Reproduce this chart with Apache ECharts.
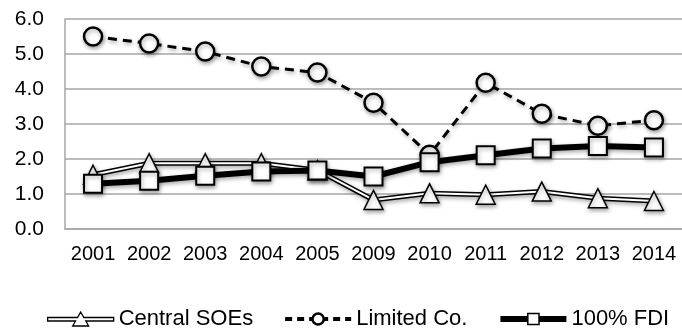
<!DOCTYPE html>
<html>
<head>
<meta charset="utf-8">
<script src="https://cdn.jsdelivr.net/npm/echarts@6/dist/echarts.min.js"></script>
<style>
  html, body { margin: 0; padding: 0; background: #fff; }
  #chart { width: 682px; height: 332px; }
</style>
</head>
<body>
<div id="chart"></div>
<script>
// Years on the category axis
const years = ['2001', '2002', '2003', '2004', '2005', '2009', '2010', '2011', '2012', '2013', '2014'];

// Ratios by ownership type
const centralSOEs = [1.55, 1.88, 1.88, 1.88, 1.68, 0.83, 1.02, 0.98, 1.07, 0.88, 0.80];
const limitedCo   = [5.50, 5.30, 5.07, 4.64, 4.47, 3.61, 2.12, 4.18, 3.29, 2.95, 3.11];
const fdi100      = [1.29, 1.38, 1.52, 1.64, 1.67, 1.50, 1.91, 2.11, 2.30, 2.37, 2.33];

// Y axis ticks
const yMin = 0, yMax = 6, yStep = 1;

const FONT = "'Liberation Sans', Arial, sans-serif";
const GRID_GREY = '#a6a6a6';
const shadow = { shadowBlur: 4, shadowColor: 'rgba(0,0,0,0.35)', shadowOffsetX: 1, shadowOffsetY: 2 };

// Legend glyph for the double-stroked line with a triangle in the middle
const doubleLineTriangle = 'path://M0,5.5 L29.86,5.5 L33,0 L36.14,5.5 L66,5.5 L66,9 L38.14,9 L41,14 L25,14 L27.86,9 L0,9 Z';

const chart = echarts.init(document.getElementById('chart'));
chart.setOption({
  animation: false,
  backgroundColor: '#fff',
  textStyle: { fontFamily: FONT },
  grid: { left: 65, top: 19, width: 620, bottom: 103, containLabel: false },
  legend: {
    data: [
      {
        name: 'Central SOEs',
        icon: doubleLineTriangle,
        itemStyle: { color: '#fff', borderColor: '#000', borderWidth: 1.3 }
      },
      {
        name: 'Limited Co.',
        lineStyle: { color: '#000', width: 4, type: [7, 5] },
        itemStyle: { color: '#fff', borderColor: '#000', borderWidth: 2.5 }
      },
      {
        name: '100% FDI',
        lineStyle: { color: '#000', width: 6 },
        itemStyle: { color: '#fff', borderColor: '#000', borderWidth: 1.5 }
      }
    ],
    left: 47,
    top: 308,
    itemWidth: 66,
    itemHeight: 14,
    itemGap: 30,
    padding: 0,
    textStyle: { fontFamily: FONT, fontSize: 22, color: '#000' }
  },
  xAxis: {
    type: 'category',
    data: years,
    boundaryGap: true,
    axisLine: { show: true, lineStyle: { color: GRID_GREY, width: 1.5 } },
    axisTick: { show: false },
    axisLabel: { fontFamily: FONT, fontSize: 20, color: '#000', margin: 15, interval: 0 }
  },
  yAxis: {
    type: 'value',
    min: yMin,
    max: yMax,
    interval: yStep,
    axisLine: { show: true, lineStyle: { color: GRID_GREY, width: 1.5 } },
    axisTick: { show: false },
    splitLine: { lineStyle: { color: GRID_GREY, width: 1.5 } },
    axisLabel: {
      fontFamily: FONT, fontSize: 21, color: '#000', margin: 21,
      formatter: v => v.toFixed(1)
    }
  },
  series: [
    // outer dark stroke of the double line
    {
      name: 'Central SOEs outline',
      type: 'line',
      data: centralSOEs,
      symbol: 'none',
      z: 2,
      lineStyle: Object.assign({ color: '#000', width: 5 }, shadow)
    },
    // white core of the double line with triangle markers
    {
      name: 'Central SOEs',
      type: 'line',
      data: centralSOEs,
      symbol: 'triangle',
      symbolSize: [19, 19],
      z: 3,
      lineStyle: { color: '#fff', width: 2 },
      itemStyle: Object.assign({ color: '#fff', borderColor: '#000', borderWidth: 1.5 }, shadow)
    },
    {
      name: 'Limited Co.',
      type: 'line',
      data: limitedCo,
      symbol: 'circle',
      symbolSize: 18,
      z: 4,
      lineStyle: Object.assign({ color: '#000', width: 3, type: [9, 6] }, shadow),
      itemStyle: Object.assign({ color: '#fff', borderColor: '#000', borderWidth: 2.5 }, shadow)
    },
    {
      name: '100% FDI',
      type: 'line',
      data: fdi100,
      symbol: 'rect',
      symbolSize: 18,
      z: 5,
      lineStyle: Object.assign({ color: '#000', width: 6 }, shadow),
      itemStyle: Object.assign({ color: '#fff', borderColor: '#000', borderWidth: 2 }, shadow)
    }
  ]
});
</script>
</body>
</html>
